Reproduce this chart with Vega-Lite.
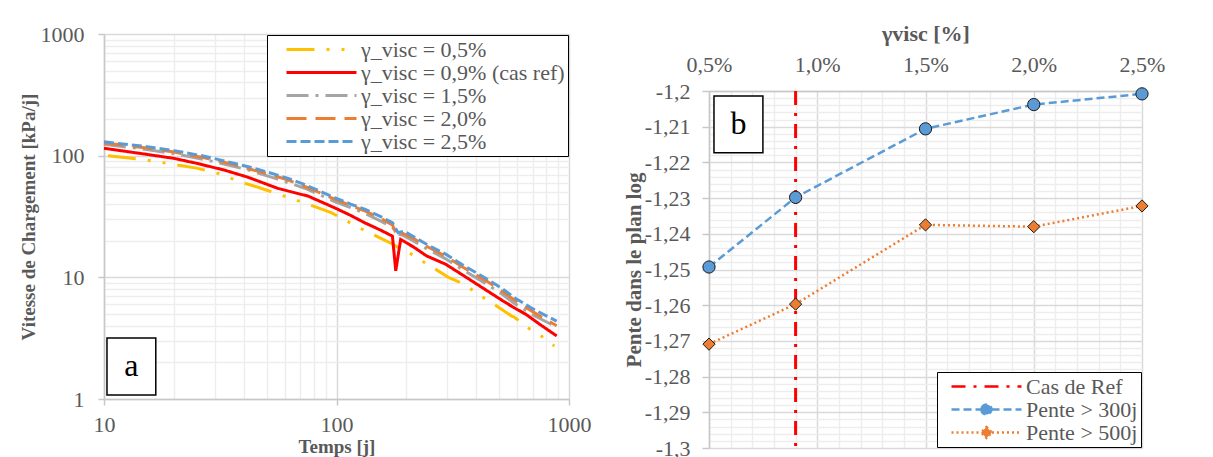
{
  "$schema": "https://vega.github.io/schema/vega-lite/v6.json",
  "background": "white",
  "padding": {"left": 19, "top": 22, "right": 5, "bottom": 0},
  "spacing": 32,
  "resolve": {"scale": {"color": "independent", "strokeDash": "independent", "fill": "independent", "shape": "independent"}, "legend": {"color": "independent", "strokeDash": "independent"}},
  "config": {
    "font": "Liberation Serif",
    "view": {"stroke": null},
    "axis": {
      "labelFont": "Liberation Serif", "labelFontSize": 22, "labelColor": "#595959",
      "titleFont": "Liberation Serif", "titleFontSize": 19, "titleFontWeight": "bold", "titleColor": "#595959",
      "domainColor": "#c8c8c8", "domainWidth": 1.5, "tickColor": "#c8c8c8", "tickWidth": 1.5,
      "gridColor": "#d9d9d9", "gridWidth": 1.5, "gridOpacity": 1,
      "labelFlush": false, "labelOverlap": false
    }
  },
  "datasets": {
    "courbes": [
      {"serie": "γ_visc = 0,5%", "t": 10.4, "v": 100},
      {"serie": "γ_visc = 0,5%", "t": 14.5, "v": 93.3},
      {"serie": "γ_visc = 0,5%", "t": 19.2, "v": 85.8},
      {"serie": "γ_visc = 0,5%", "t": 25, "v": 79},
      {"serie": "γ_visc = 0,5%", "t": 30.4, "v": 72.3},
      {"serie": "γ_visc = 0,5%", "t": 39.6, "v": 59.9},
      {"serie": "γ_visc = 0,5%", "t": 46, "v": 55},
      {"serie": "γ_visc = 0,5%", "t": 62.8, "v": 45},
      {"serie": "γ_visc = 0,5%", "t": 81.8, "v": 37.8},
      {"serie": "γ_visc = 0,5%", "t": 94.9, "v": 34},
      {"serie": "γ_visc = 0,5%", "t": 125.7, "v": 25.5},
      {"serie": "γ_visc = 0,5%", "t": 161, "v": 20.2},
      {"serie": "γ_visc = 0,5%", "t": 174, "v": 18.8},
      {"serie": "γ_visc = 0,5%", "t": 190, "v": 17},
      {"serie": "γ_visc = 0,5%", "t": 210, "v": 15.5},
      {"serie": "γ_visc = 0,5%", "t": 240, "v": 13.2},
      {"serie": "γ_visc = 0,5%", "t": 305, "v": 9.93},
      {"serie": "γ_visc = 0,5%", "t": 356, "v": 8.76},
      {"serie": "γ_visc = 0,5%", "t": 406, "v": 7.25},
      {"serie": "γ_visc = 0,5%", "t": 464, "v": 6.2},
      {"serie": "γ_visc = 0,5%", "t": 567, "v": 4.8},
      {"serie": "γ_visc = 0,5%", "t": 583, "v": 4.7},
      {"serie": "γ_visc = 0,5%", "t": 665, "v": 3.85},
      {"serie": "γ_visc = 0,5%", "t": 760, "v": 3.29},
      {"serie": "γ_visc = 0,5%", "t": 865, "v": 2.73},

      {"serie": "γ_visc = 0,9% (cas ref)", "t": 10, "v": 115},
      {"serie": "γ_visc = 0,9% (cas ref)", "t": 15, "v": 103},
      {"serie": "γ_visc = 0,9% (cas ref)", "t": 20, "v": 95},
      {"serie": "γ_visc = 0,9% (cas ref)", "t": 25.4, "v": 86},
      {"serie": "γ_visc = 0,9% (cas ref)", "t": 33, "v": 76},
      {"serie": "γ_visc = 0,9% (cas ref)", "t": 41.6, "v": 66.5},
      {"serie": "γ_visc = 0,9% (cas ref)", "t": 56, "v": 53.8},
      {"serie": "γ_visc = 0,9% (cas ref)", "t": 75.5, "v": 46.5},
      {"serie": "γ_visc = 0,9% (cas ref)", "t": 98.1, "v": 37.3},
      {"serie": "γ_visc = 0,9% (cas ref)", "t": 115, "v": 32.3},
      {"serie": "γ_visc = 0,9% (cas ref)", "t": 132.6, "v": 28},
      {"serie": "γ_visc = 0,9% (cas ref)", "t": 155, "v": 24.4},
      {"serie": "γ_visc = 0,9% (cas ref)", "t": 174, "v": 21.8},
      {"serie": "γ_visc = 0,9% (cas ref)", "t": 179.8, "v": 11.3},
      {"serie": "γ_visc = 0,9% (cas ref)", "t": 188.8, "v": 20.5},
      {"serie": "γ_visc = 0,9% (cas ref)", "t": 215, "v": 17.7},
      {"serie": "γ_visc = 0,9% (cas ref)", "t": 244, "v": 15},
      {"serie": "γ_visc = 0,9% (cas ref)", "t": 295, "v": 12.8},
      {"serie": "γ_visc = 0,9% (cas ref)", "t": 350, "v": 10.4},
      {"serie": "γ_visc = 0,9% (cas ref)", "t": 447, "v": 7.7},
      {"serie": "γ_visc = 0,9% (cas ref)", "t": 520, "v": 6.4},
      {"serie": "γ_visc = 0,9% (cas ref)", "t": 583, "v": 5.6},
      {"serie": "γ_visc = 0,9% (cas ref)", "t": 653, "v": 4.96},
      {"serie": "γ_visc = 0,9% (cas ref)", "t": 750, "v": 4.1},
      {"serie": "γ_visc = 0,9% (cas ref)", "t": 885, "v": 3.3},

      {"serie": "γ_visc = 1,5%", "t": 10, "v": 124},
      {"serie": "γ_visc = 1,5%", "t": 15, "v": 113},
      {"serie": "γ_visc = 1,5%", "t": 20, "v": 104},
      {"serie": "γ_visc = 1,5%", "t": 27, "v": 93},
      {"serie": "γ_visc = 1,5%", "t": 35, "v": 83},
      {"serie": "γ_visc = 1,5%", "t": 43, "v": 75},
      {"serie": "γ_visc = 1,5%", "t": 52, "v": 67},
      {"serie": "γ_visc = 1,5%", "t": 62, "v": 60},
      {"serie": "γ_visc = 1,5%", "t": 73, "v": 54},
      {"serie": "γ_visc = 1,5%", "t": 85, "v": 47.5},
      {"serie": "γ_visc = 1,5%", "t": 98, "v": 42},
      {"serie": "γ_visc = 1,5%", "t": 115, "v": 37.5},
      {"serie": "γ_visc = 1,5%", "t": 133, "v": 33.5},
      {"serie": "γ_visc = 1,5%", "t": 155, "v": 29},
      {"serie": "γ_visc = 1,5%", "t": 174, "v": 25.8},
      {"serie": "γ_visc = 1,5%", "t": 183, "v": 22.5},
      {"serie": "γ_visc = 1,5%", "t": 192, "v": 22.3},
      {"serie": "γ_visc = 1,5%", "t": 215, "v": 19.8},
      {"serie": "γ_visc = 1,5%", "t": 244, "v": 17.2},
      {"serie": "γ_visc = 1,5%", "t": 295, "v": 14.2},
      {"serie": "γ_visc = 1,5%", "t": 350, "v": 11.5},
      {"serie": "γ_visc = 1,5%", "t": 447, "v": 8.7},
      {"serie": "γ_visc = 1,5%", "t": 520, "v": 7.2},
      {"serie": "γ_visc = 1,5%", "t": 583, "v": 6.1},
      {"serie": "γ_visc = 1,5%", "t": 700, "v": 4.9},
      {"serie": "γ_visc = 1,5%", "t": 885, "v": 3.9},

      {"serie": "γ_visc = 2,0%", "t": 10, "v": 127},
      {"serie": "γ_visc = 2,0%", "t": 15, "v": 116},
      {"serie": "γ_visc = 2,0%", "t": 20, "v": 107},
      {"serie": "γ_visc = 2,0%", "t": 27, "v": 96},
      {"serie": "γ_visc = 2,0%", "t": 35, "v": 86},
      {"serie": "γ_visc = 2,0%", "t": 43, "v": 77},
      {"serie": "γ_visc = 2,0%", "t": 52, "v": 70},
      {"serie": "γ_visc = 2,0%", "t": 62, "v": 63},
      {"serie": "γ_visc = 2,0%", "t": 73, "v": 56},
      {"serie": "γ_visc = 2,0%", "t": 85, "v": 49.5},
      {"serie": "γ_visc = 2,0%", "t": 98, "v": 44},
      {"serie": "γ_visc = 2,0%", "t": 115, "v": 39},
      {"serie": "γ_visc = 2,0%", "t": 133, "v": 35},
      {"serie": "γ_visc = 2,0%", "t": 155, "v": 30.5},
      {"serie": "γ_visc = 2,0%", "t": 174, "v": 27},
      {"serie": "γ_visc = 2,0%", "t": 183, "v": 21.5},
      {"serie": "γ_visc = 2,0%", "t": 192, "v": 23},
      {"serie": "γ_visc = 2,0%", "t": 215, "v": 20.8},
      {"serie": "γ_visc = 2,0%", "t": 244, "v": 18},
      {"serie": "γ_visc = 2,0%", "t": 295, "v": 14.9},
      {"serie": "γ_visc = 2,0%", "t": 350, "v": 12.1},
      {"serie": "γ_visc = 2,0%", "t": 447, "v": 9.2},
      {"serie": "γ_visc = 2,0%", "t": 520, "v": 7.6},
      {"serie": "γ_visc = 2,0%", "t": 583, "v": 6.5},
      {"serie": "γ_visc = 2,0%", "t": 700, "v": 5.2},
      {"serie": "γ_visc = 2,0%", "t": 885, "v": 4.0},

      {"serie": "γ_visc = 2,5%", "t": 10, "v": 130},
      {"serie": "γ_visc = 2,5%", "t": 15, "v": 119},
      {"serie": "γ_visc = 2,5%", "t": 20, "v": 110},
      {"serie": "γ_visc = 2,5%", "t": 27, "v": 99},
      {"serie": "γ_visc = 2,5%", "t": 35, "v": 88},
      {"serie": "γ_visc = 2,5%", "t": 43, "v": 80},
      {"serie": "γ_visc = 2,5%", "t": 51.6, "v": 72.4},
      {"serie": "γ_visc = 2,5%", "t": 62, "v": 65},
      {"serie": "γ_visc = 2,5%", "t": 72.6, "v": 58},
      {"serie": "γ_visc = 2,5%", "t": 85, "v": 51},
      {"serie": "γ_visc = 2,5%", "t": 98, "v": 45.1},
      {"serie": "γ_visc = 2,5%", "t": 115, "v": 40},
      {"serie": "γ_visc = 2,5%", "t": 133, "v": 36.2},
      {"serie": "γ_visc = 2,5%", "t": 155, "v": 31.5},
      {"serie": "γ_visc = 2,5%", "t": 174, "v": 28.1},
      {"serie": "γ_visc = 2,5%", "t": 184, "v": 23.3},
      {"serie": "γ_visc = 2,5%", "t": 195, "v": 24},
      {"serie": "γ_visc = 2,5%", "t": 215, "v": 21.5},
      {"serie": "γ_visc = 2,5%", "t": 244, "v": 18.7},
      {"serie": "γ_visc = 2,5%", "t": 295, "v": 15.5},
      {"serie": "γ_visc = 2,5%", "t": 350, "v": 12.6},
      {"serie": "γ_visc = 2,5%", "t": 447, "v": 9.6},
      {"serie": "γ_visc = 2,5%", "t": 520, "v": 8},
      {"serie": "γ_visc = 2,5%", "t": 583, "v": 6.8},
      {"serie": "γ_visc = 2,5%", "t": 700, "v": 5.5},
      {"serie": "γ_visc = 2,5%", "t": 885, "v": 4.37}
    ],
    "pentes": [
      {"serie": "Pente > 300j", "gamma": 0.5, "pente": -1.2493},
      {"serie": "Pente > 300j", "gamma": 0.9, "pente": -1.2298},
      {"serie": "Pente > 300j", "gamma": 1.5, "pente": -1.2106},
      {"serie": "Pente > 300j", "gamma": 2.0, "pente": -1.2038},
      {"serie": "Pente > 300j", "gamma": 2.5, "pente": -1.2008},
      {"serie": "Pente > 500j", "gamma": 0.5, "pente": -1.2709},
      {"serie": "Pente > 500j", "gamma": 0.9, "pente": -1.2597},
      {"serie": "Pente > 500j", "gamma": 1.5, "pente": -1.2375},
      {"serie": "Pente > 500j", "gamma": 2.0, "pente": -1.2380},
      {"serie": "Pente > 500j", "gamma": 2.5, "pente": -1.2322}
    ],
    "ref": [
      {"serie": "Cas de Ref", "gamma": 0.9}
    ]
  },
  "hconcat": [
    {
      "width": 465,
      "height": 365,
      "layer": [
        {
          "data": {"values": [{"lab": "a"}]},
          "mark": {"type": "rect", "fill": "white", "stroke": "black", "strokeWidth": 1.5},
          "encoding": {
            "x": {"datum": 10.3, "type": "quantitative", "scale": {"type": "log", "domain": [10, 1000], "nice": false},
              "axis": {"orient": "top", "values": [20,30,40,50,60,70,80,90,200,300,400,500,600,700,800,900], "grid": true, "gridColor": "#ededed", "labels": false, "ticks": false, "domain": false, "title": null}},
            "x2": {"datum": 16.7},
            "y": {"datum": 1.08, "type": "quantitative", "scale": {"type": "log", "domain": [1, 1000], "nice": false},
              "axis": {"orient": "right", "values": [2,3,4,5,6,7,8,9,20,30,40,50,60,70,80,90,200,300,400,500,600,700,800,900], "grid": true, "gridColor": "#ededed", "labels": false, "ticks": false, "domain": false, "title": null}},
            "y2": {"datum": 3.17}
          }
        },
        {
          "data": {"name": "courbes"},
          "mark": {"type": "line", "strokeWidth": 3, "strokeCap": "butt"},
          "encoding": {
            "x": {"field": "t", "type": "quantitative", "scale": {"type": "log", "domain": [10, 1000], "nice": false},
              "axis": {"orient": "bottom", "values": [10, 100, 1000], "format": "d", "grid": true, "title": "Temps [j]", "tickSize": 6, "labelPadding": 9, "titlePadding": 2}},
            "y": {"field": "v", "type": "quantitative", "scale": {"type": "log", "domain": [1, 1000], "nice": false},
              "axis": {"orient": "left", "values": [1, 10, 100, 1000], "format": "d", "grid": true, "title": "Vitesse de Chargement [kPa/j]", "tickSize": 6, "labelPadding": 14, "titlePadding": 2}},
            "color": {
              "field": "serie", "type": "nominal",
              "scale": {"domain": ["γ_visc = 0,5%", "γ_visc = 0,9% (cas ref)", "γ_visc = 1,5%", "γ_visc = 2,0%", "γ_visc = 2,5%"],
                        "range": ["#FFC000", "#FF0000", "#A5A5A5", "#ED7D31", "#5B9BD5"]},
              "legend": {"title": null, "orient": "top-right", "offset": 1, "strokeColor": "black", "fillColor": "white", "padding": 3,
                "symbolType": "M-3.5,0H3.5", "symbolSize": 400, "symbolStrokeWidth": 3, "symbolOffset": 40,
                "labelFont": "Liberation Serif", "labelFontSize": 22, "labelColor": "#595959", "labelLimit": 400, "labelOffset": 28, "rowPadding": 0}
            },
            "strokeDash": {
              "field": "serie", "type": "nominal",
              "scale": {"domain": ["γ_visc = 0,5%", "γ_visc = 0,9% (cas ref)", "γ_visc = 1,5%", "γ_visc = 2,0%", "γ_visc = 2,5%"],
                        "range": [[28, 12, 3, 12, 3, 12], [1, 0], [22, 7, 3, 7], [20, 9], [10, 4]]},
              "legend": {"title": null, "orient": "top-right", "offset": 1, "strokeColor": "black", "fillColor": "white", "padding": 3,
                "symbolType": "M-3.5,0H3.5", "symbolSize": 400, "symbolStrokeWidth": 3, "symbolOffset": 40,
                "labelFont": "Liberation Serif", "labelFontSize": 22, "labelColor": "#595959", "labelLimit": 400, "labelOffset": 28, "rowPadding": 0}
            }
          }
        },
        {
          "data": {"values": [{"lab": "a"}]},
          "mark": {"type": "text", "font": "Liberation Serif", "fontSize": 32, "color": "black", "baseline": "middle"},
          "encoding": {
            "x": {"datum": 13.1, "type": "quantitative", "axis": null},
            "y": {"datum": 1.85, "type": "quantitative", "axis": null},
            "text": {"field": "lab"}
          }
        }
      ],
      "resolve": {"axis": {"x": "independent", "y": "independent"}}
    },
    {
      "spacing": 56,
      "bounds": "flush",
      "resolve": {"scale": {"color": "independent", "strokeDash": "independent", "fill": "independent", "shape": "independent"}, "legend": {"color": "independent", "strokeDash": "independent"}},
      "vconcat": [
        {
          "width": 433,
          "height": 1,
          "data": {"values": []},
          "mark": "rect"
        },
        {
          "width": 433,
          "height": 357,
          "layer": [
            {
              "data": {"name": "pentes"},
              "mark": {"type": "line", "strokeWidth": 2.5},
              "encoding": {
                "x": {"field": "gamma", "type": "quantitative", "scale": {"domain": [0.5, 2.5], "nice": false, "zero": false},
                  "axis": {"orient": "bottom", "values": [0.6,0.7,0.8,0.9,1.1,1.2,1.3,1.4,1.6,1.7,1.8,1.9,2.1,2.2,2.3,2.4], "grid": true, "gridColor": "#ededed", "labels": false, "ticks": false, "domain": false, "title": null}},
                "y": {"field": "pente", "type": "quantitative", "scale": {"domain": [-1.3, -1.2], "nice": false, "zero": false},
                  "axis": {"orient": "right", "values": [-1.298,-1.296,-1.294,-1.292,-1.288,-1.286,-1.284,-1.282,-1.278,-1.276,-1.274,-1.272,-1.268,-1.266,-1.264,-1.262,-1.258,-1.256,-1.254,-1.252,-1.248,-1.246,-1.244,-1.242,-1.238,-1.236,-1.234,-1.232,-1.228,-1.226,-1.224,-1.222,-1.218,-1.216,-1.214,-1.212,-1.208,-1.206,-1.204,-1.202], "grid": true, "gridColor": "#ededed", "labels": false, "ticks": false, "domain": false, "title": null}},
                "color": {
                  "field": "serie", "type": "nominal",
                  "scale": {"domain": ["Cas de Ref", "Pente > 300j", "Pente > 500j"], "range": ["#FF0000", "#5B9BD5", "#ED7D31"]},
                  "legend": {"title": null, "orient": "bottom-right", "offset": 1, "strokeColor": "black", "fillColor": "white", "padding": 3,
                    "symbolType": "M-3.5,0H3.5", "symbolSize": 400, "symbolStrokeWidth": 2.5, "symbolOffset": 35,
                    "labelFont": "Liberation Serif", "labelFontSize": 22, "labelColor": "#595959", "labelOffset": 28, "rowPadding": 0,
                    "encode": {"symbols": {"update": {
                      "shape": {"signal": "datum.value === 'Pente > 300j' ? 'M-3.5,0H-0.5M0.5,0H3.5M-0.5,0A0.5,0.5 0 1,1 0.5,0A0.5,0.5 0 1,1 -0.5,0Z' : datum.value === 'Pente > 500j' ? 'M-3.5,0H-0.55M0.55,0H3.5M0,-0.55L0.55,0L0,0.55L-0.55,0Z' : 'M-3.5,0H3.5'"},
                      "fill": {"signal": "datum.value === 'Pente > 300j' ? '#5B9BD5' : datum.value === 'Pente > 500j' ? '#ED7D31' : 'transparent'"},
                      "fillOpacity": {"value": 1}
                    }}}}
                },
                "strokeDash": {
                  "field": "serie", "type": "nominal",
                  "scale": {"domain": ["Cas de Ref", "Pente > 300j", "Pente > 500j"], "range": [[14, 8, 3, 8], [8, 4], [2, 3]]},
                  "legend": {"title": null, "orient": "bottom-right", "offset": 1, "strokeColor": "black", "fillColor": "white", "padding": 3,
                    "symbolType": "M-3.5,0H3.5", "symbolSize": 400, "symbolStrokeWidth": 2.5, "symbolOffset": 35,
                    "labelFont": "Liberation Serif", "labelFontSize": 22, "labelColor": "#595959", "labelOffset": 28, "rowPadding": 0,
                    "encode": {"symbols": {"update": {
                      "shape": {"signal": "datum.value === 'Pente > 300j' ? 'M-3.5,0H-0.5M0.5,0H3.5M-0.5,0A0.5,0.5 0 1,1 0.5,0A0.5,0.5 0 1,1 -0.5,0Z' : datum.value === 'Pente > 500j' ? 'M-3.5,0H-0.55M0.55,0H3.5M0,-0.55L0.55,0L0,0.55L-0.55,0Z' : 'M-3.5,0H3.5'"},
                      "fill": {"signal": "datum.value === 'Pente > 300j' ? '#5B9BD5' : datum.value === 'Pente > 500j' ? '#ED7D31' : 'transparent'"},
                      "fillOpacity": {"value": 1}
                    }}}}
                }
              }
            },
            {
              "data": {"name": "ref"},
              "mark": {"type": "rule", "strokeWidth": 3},
              "encoding": {
                "x": {"field": "gamma", "type": "quantitative",
                  "axis": {"orient": "top", "values": [0.5, 1, 1.5, 2, 2.5], "labelExpr": "replace(format(datum.value, '.1f'), '.', ',') + '%'", "grid": true, "ticks": false, "domain": true, "title": "γvisc [%]", "titleFontSize": 22, "labelPadding": 15, "titlePadding": 8}},
                "color": {"field": "serie", "type": "nominal"},
                "strokeDash": {"field": "serie", "type": "nominal"}
              }
            },
            {
              "data": {"name": "pentes"},
              "mark": {"type": "point", "filled": true, "stroke": "#1a1a1a", "strokeWidth": 1, "opacity": 1},
              "encoding": {
                "x": {"field": "gamma", "type": "quantitative", "axis": null},
                "y": {"field": "pente", "type": "quantitative",
                  "axis": {"orient": "left", "values": [-1.3,-1.29,-1.28,-1.27,-1.26,-1.25,-1.24,-1.23,-1.22,-1.21,-1.2], "labelExpr": "replace(replace(format(datum.value, '.2~f'), '.', ','), '−', '-')", "grid": true, "title": "Pente dans le plan log", "titleFontSize": 21, "tickSize": 7, "labelPadding": 12, "titlePadding": 0}},
                "fill": {"field": "serie", "type": "nominal", "scale": {"domain": ["Pente > 300j", "Pente > 500j"], "range": ["#5B9BD5", "#ED7D31"]}, "legend": null},
                "shape": {"field": "serie", "type": "nominal", "scale": {"domain": ["Pente > 300j", "Pente > 500j"], "range": ["circle", "diamond"]}, "legend": null},
                "size": {"value": 150}
              }
            },
            {
              "data": {"values": [{"lab": "b"}]},
              "mark": {"type": "rect", "fill": "white", "stroke": "black", "strokeWidth": 1.5},
              "encoding": {
                "x": {"datum": 0.523, "type": "quantitative", "axis": null},
                "x2": {"datum": 0.749},
                "y": {"datum": -1.2014, "type": "quantitative", "axis": null},
                "y2": {"datum": -1.2173}
              }
            },
            {
              "data": {"values": [{"lab": "b"}]},
              "mark": {"type": "text", "font": "Liberation Serif", "fontSize": 32, "color": "black", "baseline": "middle"},
              "encoding": {
                "x": {"datum": 0.636, "type": "quantitative", "axis": null},
                "y": {"datum": -1.2093, "type": "quantitative", "axis": null},
                "text": {"field": "lab"}
              }
            }
          ],
          "resolve": {"axis": {"x": "independent", "y": "independent"}}
        }
      ]
    }
  ]
}
